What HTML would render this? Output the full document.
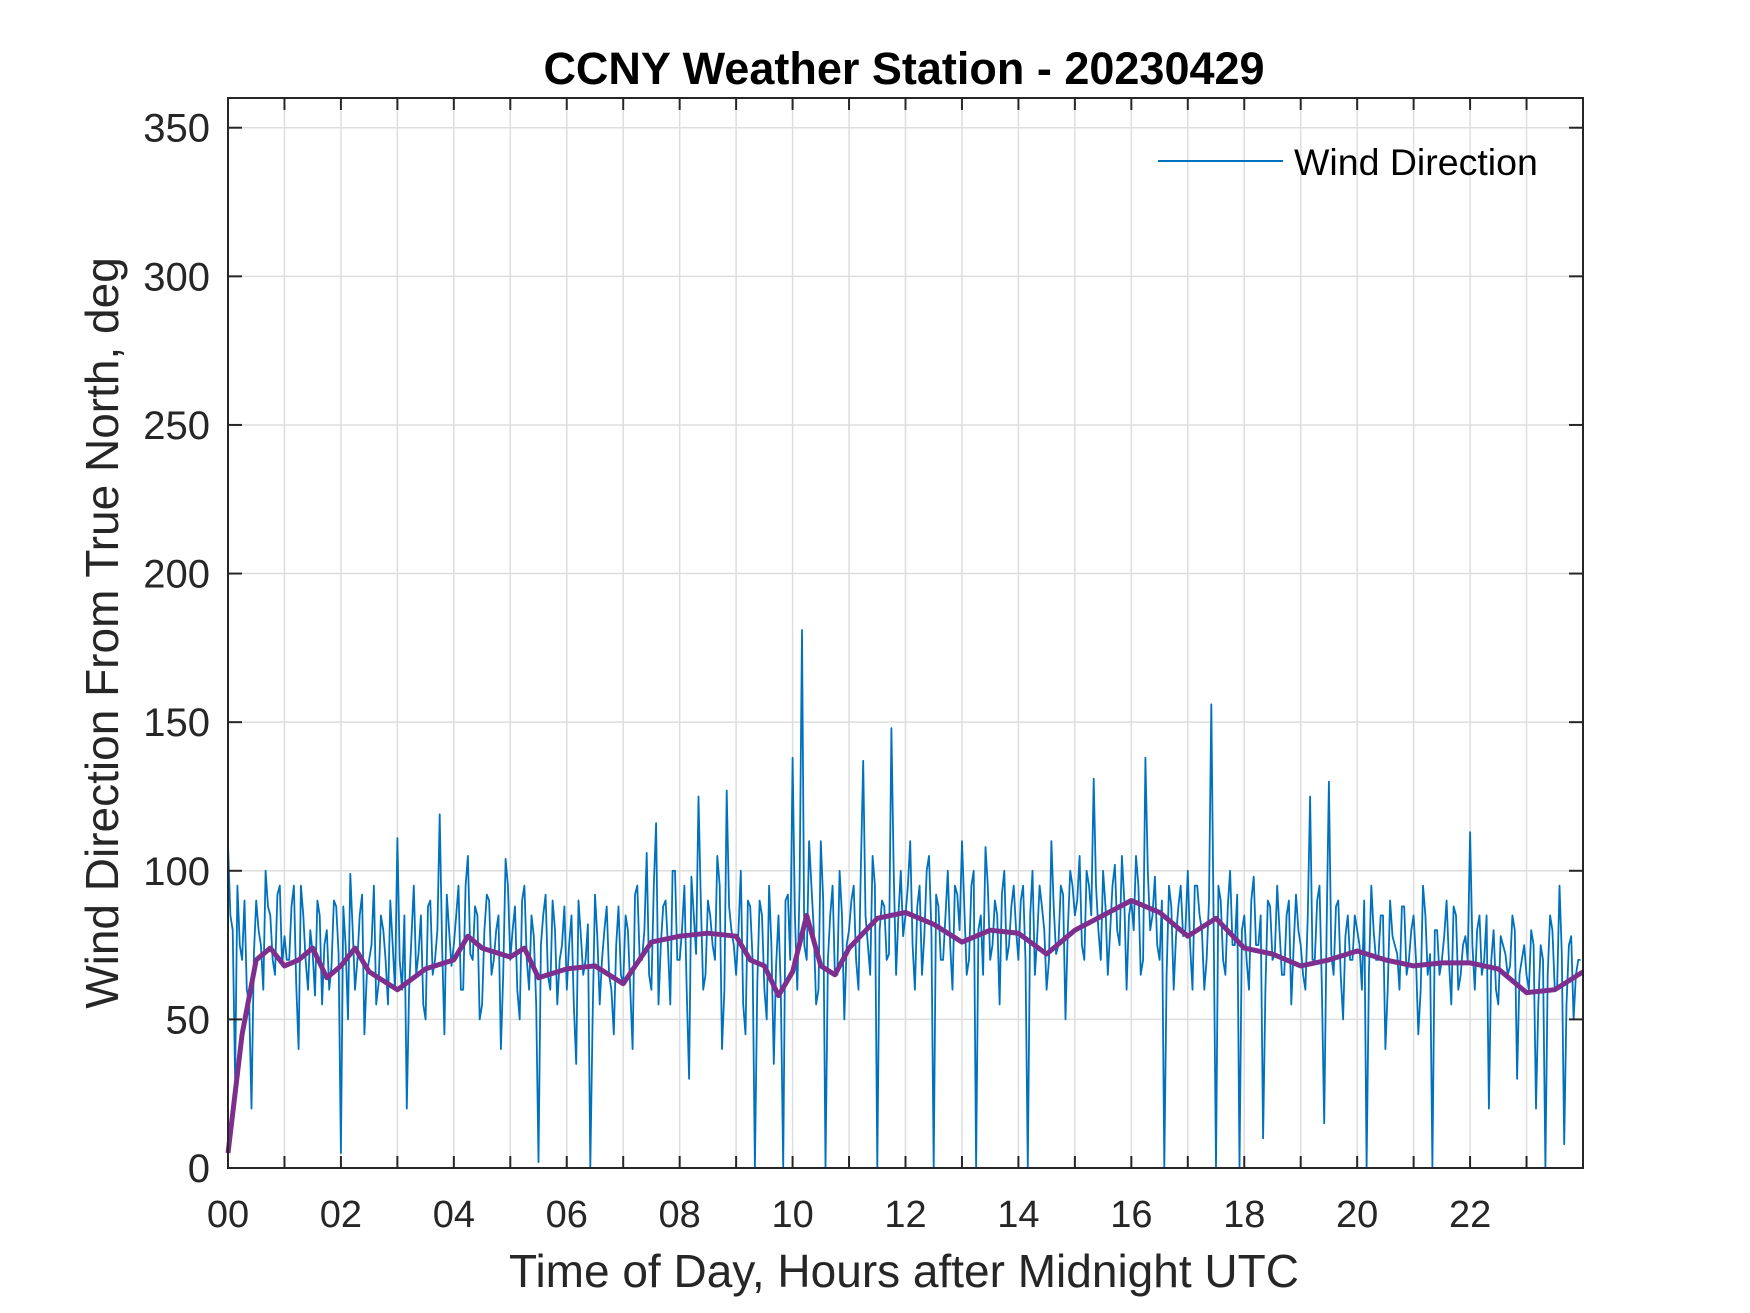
<!DOCTYPE html>
<html><head><meta charset="utf-8"><style>
html,body{margin:0;padding:0;background:#fff;}
svg{display:block;font-family:"Liberation Sans",Arial,sans-serif;}
</style></head><body>
<svg id="chart" width="1750" height="1313" viewBox="0 0 1750 1313">
<rect width="1750" height="1313" fill="#fff"/>
<g id="grid"></g>
<g id="plot"></g>
<rect x="228" y="98" width="1355" height="1070" fill="none" stroke="#262626" stroke-width="2"/>
<g id="ticks"></g>
<text x="904" y="84" text-anchor="middle" font-size="45" font-weight="bold" fill="#000">CCNY Weather Station - 20230429</text>
<text x="904" y="1287" text-anchor="middle" font-size="46" fill="#262626">Time of Day, Hours after Midnight UTC</text>
<text transform="translate(118,633) rotate(-90)" text-anchor="middle" font-size="46" fill="#262626">Wind Direction From True North, deg</text>
<g>
<line x1="1158" y1="161" x2="1283" y2="161" stroke="#0072BD" stroke-width="2"/>
<text x="1294" y="175" font-size="37.5" fill="#000">Wind Direction</text>
</g>
</svg>
<script>
const windValues = [
109,80,95,70,60,20,90,75,100,85,65,95,
78,70,95,40,85,60,72,90,55,80,68,88,
5,75,99,60,85,45,70,95,62,80,55,75,
111,60,20,78,65,85,50,90,70,119,45,80,
75,95,60,105,70,85,55,92,65,80,40,104,
70,88,50,95,60,78,2,85,65,90,55,75,
60,85,35,78,70,0,92,55,80,65,45,88,
62,80,40,95,70,106,60,116,75,90,55,100,
70,95,30,85,125,60,90,75,105,40,127,80,
65,100,45,88,0,90,60,95,35,85,0,92,
138,60,181,70,95,55,110,0,85,65,100,50,
80,95,60,137,75,105,0,90,70,148,65,100,
85,110,60,95,78,105,0,88,70,100,60,92,
110,65,95,0,85,108,70,90,55,100,75,95,
70,95,0,100,78,88,60,110,72,95,50,100,
85,105,70,95,131,80,100,65,95,80,105,60,
90,105,65,138,80,98,70,0,95,60,88,78,
100,60,95,80,70,156,0,90,65,100,75,0,
85,60,98,75,10,90,70,95,65,85,55,92,
75,60,125,70,95,15,130,65,90,50,85,70,
80,60,0,95,70,85,40,90,75,60,88,70,
85,45,95,65,0,80,70,90,55,85,65,78,
113,60,85,70,20,80,55,75,65,85,30,70,
65,80,20,75,0,85,60,95,8,75,50,70
];
const windValuesB = [
85,30,75,90,55,72,80,60,88,70,92,68,
70,88,62,95,70,80,58,85,75,60,90,72,
88,50,80,70,92,65,75,55,85,70,90,60,
70,85,60,95,72,55,88,65,80,75,92,68,
85,60,95,72,88,50,80,90,70,85,65,95,
80,60,90,70,85,55,75,92,60,80,70,88,
75,55,90,65,82,50,78,70,88,60,75,65,
85,60,92,70,80,65,95,55,88,75,100,70,
80,60,98,72,90,65,85,70,95,60,88,75,
80,55,90,70,62,85,50,75,68,60,90,70,
85,95,75,110,80,60,90,70,95,65,85,75,
90,70,100,85,65,95,80,88,72,100,85,78,
95,75,88,65,100,80,92,70,85,75,95,80,
88,70,100,80,65,95,75,85,92,70,88,80,
90,70,85,65,95,80,70,88,75,92,80,95,
90,75,100,85,95,70,88,80,102,75,90,85,
80,95,70,100,85,75,90,65,88,78,95,80,
75,95,85,60,90,80,95,70,88,75,92,80,
70,90,75,85,60,88,72,80,65,90,75,80,
65,85,70,90,60,80,72,88,65,78,70,85,
75,90,65,80,70,85,60,78,72,88,65,80,
70,60,85,72,80,65,78,70,88,60,75,70,
75,80,65,85,70,60,78,72,68,80,65,75,
60,75,55,70,65,80,60,72,55,78,65,70
];
const meanHours = [0,0.25,0.5,0.75,1,1.25,1.5,1.75,2,2.25,2.5,3,3.5,4,4.25,4.5,5,5.25,5.5,6,6.5,7,7.5,8,8.5,9,9.25,9.5,9.75,10,10.25,10.5,10.75,11,11.5,12,12.5,13,13.5,14,14.5,15,15.5,16,16.5,17,17.5,18,18.5,19,19.5,20,20.5,21,21.5,22,22.5,23,23.5,24];
const meanValues = [5,45,70,74,68,70,74,64,68,74,66,60,67,70,78,74,71,74,64,67,68,62,76,78,79,78,70,68,58,66,85,68,65,74,84,86,82,76,80,79,72,80,85,90,86,78,84,74,72,68,70,73,70,68,69,69,67,59,60,66];
const xTickLabels = ["00","02","04","06","08","10","12","14","16","18","20","22"];
const yTickValues = [0,50,100,150,200,250,300,350];

const L=228,R=1583,T=98,B=1168;
const xs=h=>L+(h/24)*(R-L);
const ys=v=>B-(v/360)*(B-T);
const NS="http://www.w3.org/2000/svg";
function mk(tag,parent,attrs){const e=document.createElementNS(NS,tag);for(const k in attrs)e.setAttribute(k,attrs[k]);parent.appendChild(e);return e;}
const grid=document.getElementById('grid'),plot=document.getElementById('plot'),ticks=document.getElementById('ticks');
for(let h=1;h<24;h++){
  const g=mk('line',grid,{x1:xs(h),x2:xs(h),y1:T,y2:B,stroke:'#dedede','stroke-width':1.5});
  
  
  const t1=mk('line',ticks,{x1:xs(h),x2:xs(h),y1:B,y2:B-12,stroke:'#262626','stroke-width':2});
  
  
  const t2=mk('line',ticks,{x1:xs(h),x2:xs(h),y1:T,y2:T+12,stroke:'#262626','stroke-width':2});
  
  
}
xTickLabels.forEach((lab,i)=>{
  const t=mk('text',ticks,{x:xs(i*2),y:1227,'text-anchor':'middle','font-size':38,fill:'#262626'});
  t.textContent=lab;
  
  
});
yTickValues.forEach(v=>{
  if(v>0){
    const g=mk('line',grid,{x1:L,x2:R,y1:ys(v),y2:ys(v),stroke:'#dedede','stroke-width':1.5});
    
    
  }
  const a=mk('line',ticks,{x1:L,x2:L+14,y1:ys(v),y2:ys(v),stroke:'#262626','stroke-width':2});
  
  
  const b=mk('line',ticks,{x1:R,x2:R-14,y1:ys(v),y2:ys(v),stroke:'#262626','stroke-width':2});
  
  
  const t=mk('text',ticks,{x:210,y:ys(v)+14,'text-anchor':'end','font-size':40,fill:'#262626'});
  t.textContent=v;
  
  
});
const n=windValues.length;
const parts=[];
windValues.forEach((v,i)=>{
  parts.push(xs(i*24/n).toFixed(1)+','+ys(v).toFixed(1));
  if(i<windValuesB.length) parts.push(xs((i+0.5)*24/n).toFixed(1)+','+ys(windValuesB[i]).toFixed(1));
});
const wl=mk('polyline',plot,{points:parts.join(' '),fill:'none',stroke:'#0072BD','stroke-width':1.8,'stroke-linejoin':'round'});


const mp=meanHours.map((h,i)=>xs(h).toFixed(1)+','+ys(meanValues[i]).toFixed(1)).join(' ');
const ml=mk('polyline',plot,{points:mp,fill:'none',stroke:'#7E2F8E','stroke-width':5,'stroke-linejoin':'round'});


</script>
</body></html>
